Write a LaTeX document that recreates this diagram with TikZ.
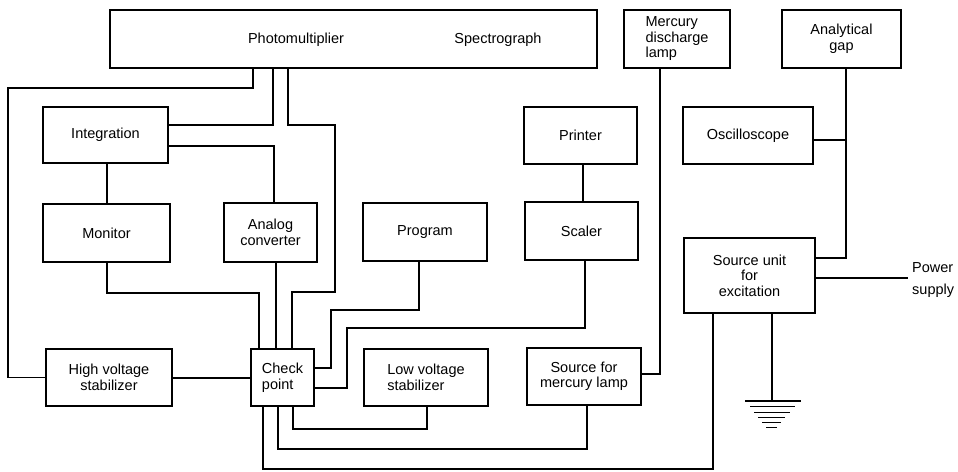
\documentclass[tikz,border=0pt]{standalone}
\usepackage{fontspec}
\setmainfont{Liberation Sans}
\begin{document}
\begin{tikzpicture}[x=1pt,y=-1pt,
  box/.style={draw,line width=1.2pt,inner sep=0pt,outer sep=0pt,align=center,font=\fontsize{14.5}{15.5}\selectfont},
  lbl/.style={inner sep=0pt,font=\fontsize{14.5}{15.5}\selectfont},
  wire/.style={line width=1.2pt,line join=miter}]
\useasboundingbox (0,0) rectangle (958,471);
% boxes
\node[box,minimum width=487,minimum height=58] (spec) at (353.5,39) {};
\node[lbl] (pm) at (296,40) {Photomultiplier};
\node[lbl] (sg) at (498,40) {Spectrograph};
\node[box,minimum width=106,minimum height=58,align=left] (mlamp) at (677,39) {Mercury\\discharge\\lamp};
\node[box,minimum width=119,minimum height=58] (gap) at (841.5,39) {Analytical\\gap};
\node[box,minimum width=125,minimum height=56] (integ) at (105.5,135) {Integration};
\node[box,minimum width=113,minimum height=57] (printer) at (580.5,135.5) {Printer};
\node[box,minimum width=130,minimum height=57] (osc) at (748,135.5) {Oscilloscope};
\node[box,minimum width=127,minimum height=58] (monitor) at (106.5,233) {Monitor};
\node[box,minimum width=93,minimum height=59] (analog) at (270.5,232.5) {Analog\\converter};
\node[box,minimum width=124,minimum height=58] (program) at (425,232) {Program};
\node[box,minimum width=113,minimum height=58] (scaler) at (581.5,231) {Scaler};
\node[box,minimum width=131,minimum height=75] (srcunit) at (749.5,275.5) {Source unit\\for\\excitation};
\node[box,minimum width=126,minimum height=57] (hv) at (109,377.5) {High voltage\\stabilizer};
\node[box,minimum width=63,minimum height=57,align=left] (check) at (282.5,377.5) {Check\\point};
\node[box,minimum width=124,minimum height=57,align=left] (lv) at (426,377.5) {Low voltage\\stabilizer};
\node[box,minimum width=114,minimum height=57] (msrc) at (584,376.5) {Source for\\mercury lamp};
\node[lbl,anchor=west,align=left,font=\fontsize{14.5}{22}\selectfont] (power) at (912,280) {Power\\supply};
% connectors
\draw[wire] (spec.south -| 253,0) -- (253,88) -- (8,88) |- (hv.west);
\draw[wire] (spec.south -| 273,0) |- (integ.east |- 0,125);
\draw[wire] (integ.east |- 0,146) -| (analog.north -| 274,0);
\draw[wire] (spec.south -| 288,0) -- (288,125) -- (335,125) -- (335,292) -- (292,292) -- (check.north -| 292,0);
\draw[wire] (integ.south -| 107,0) -- (monitor.north -| 107,0);
\draw[wire] (monitor.south -| 107,0) |- (259,293) -- (check.north -| 259,0);
\draw[wire] (analog.south -| 276,0) -- (check.north -| 276,0);
\draw[wire] (program.south -| 419,0) -- (419,310) -- (331,310) |- (check.east |- 0,368);
\draw[wire] (scaler.south -| 585,0) -- (585,328) -- (347,328) |- (check.east |- 0,388);
\draw[wire] (lv.south -| 427,0) -- (427,429) -| (check.south -| 293,0);
\draw[wire] (msrc.south -| 587,0) -- (587,449) -| (check.south -| 278,0);
\draw[wire] (srcunit.south -| 713,0) -- (713,469) -| (check.south -| 263,0);
\draw[wire] (hv.east |- 0,378) -- (check.west |- 0,378);
\draw[wire] (mlamp.south -| 660,0) |- (msrc.east |- 0,374);
\draw[wire] (printer.south -| 583,0) -- (scaler.north -| 583,0);
\coordinate (j) at (846,140);
\draw[wire] (gap.south -| 846,0) -- (j) |- (srcunit.east |- 0,258);
\draw[wire] (osc.east |- j) -- (j);
\draw[wire] (srcunit.east |- 0,278) -- (908,278);
\coordinate (gnd) at (772,401);
\draw[wire] (srcunit.south -| gnd) -- (gnd);
\draw[wire] (745,401) -- (801,401);
\draw[line width=1pt] (750,406.5) -- (795,406.5);
\draw[line width=1pt] (754,412) -- (790,412);
\draw[line width=1pt] (758,417) -- (785,417);
\draw[line width=1pt] (762,422) -- (781,422);
\draw[line width=1pt] (766,427) -- (777,427);
\end{tikzpicture}
\end{document}
